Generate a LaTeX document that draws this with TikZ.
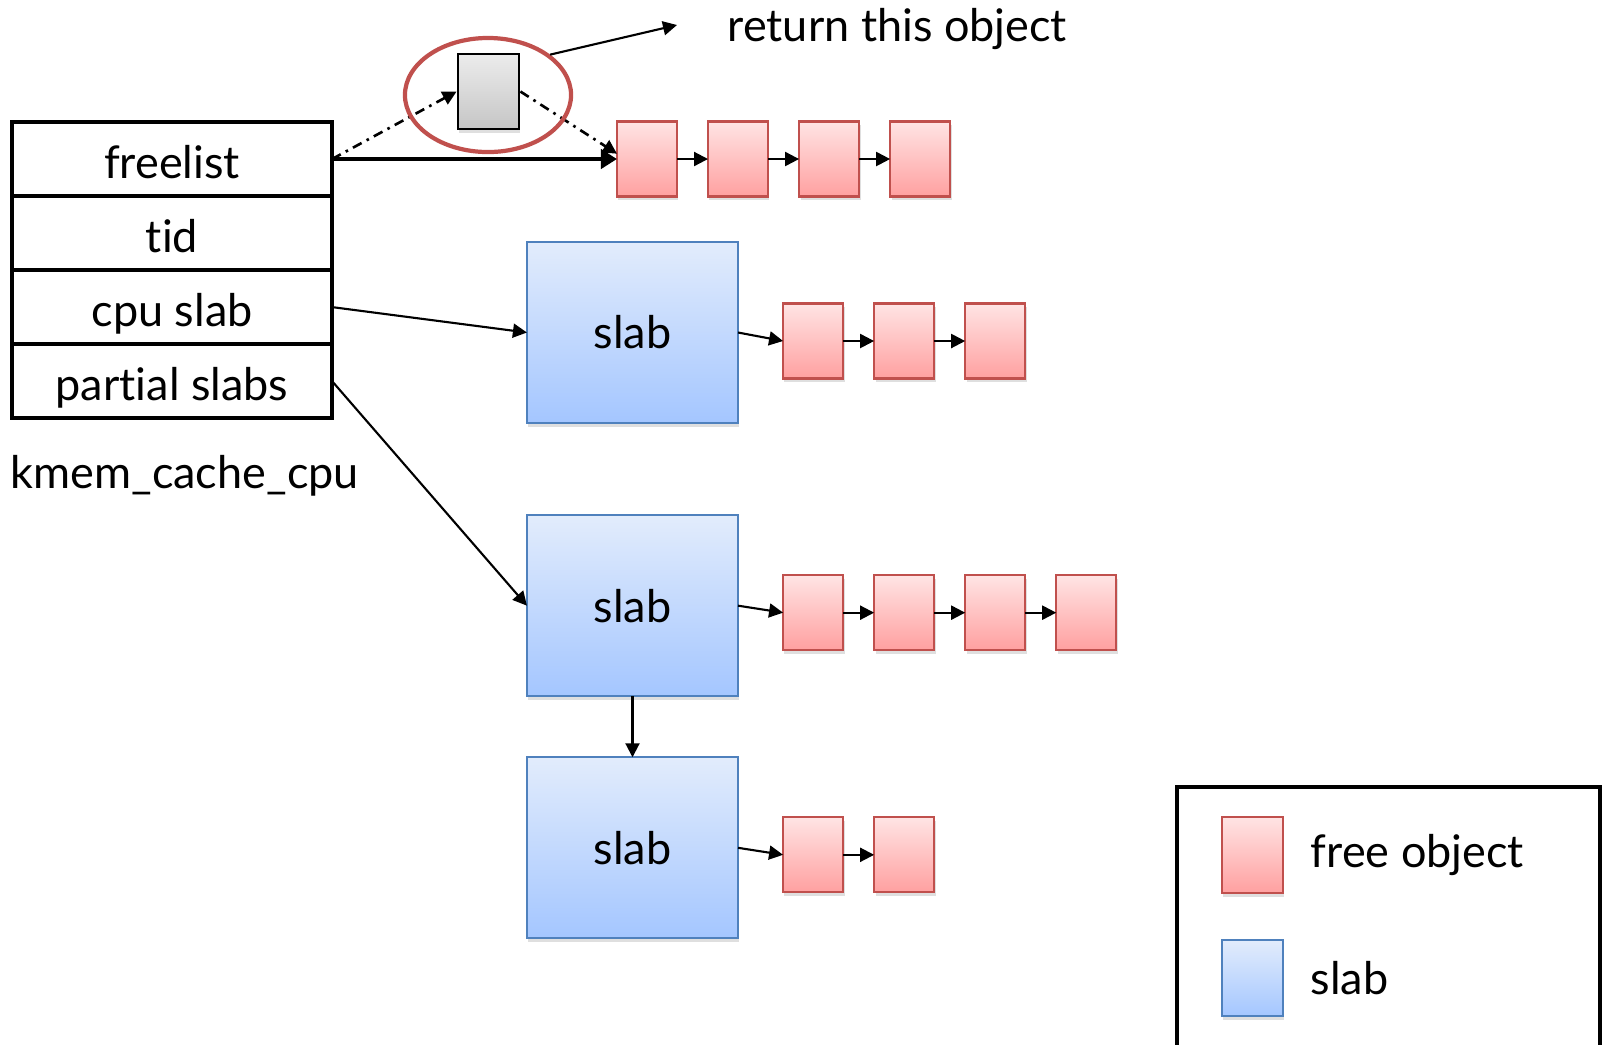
\documentclass[tikz,border=0pt]{standalone}
\usepackage{fontspec}
\setmainfont{Lato}[Ligatures=NoCommon]
\usepackage{xcolor}
\usepackage{tikz}
\usetikzlibrary{shapes,arrows.meta,positioning,shadows}

\definecolor{objline}{RGB}{192,80,77}
\definecolor{objtop}{RGB}{255,228,228}
\definecolor{objbot}{RGB}{255,160,160}
\definecolor{slabline}{RGB}{79,129,189}
\definecolor{slabtop}{RGB}{226,236,252}
\definecolor{slabbot}{RGB}{164,198,255}

\begin{document}
\begin{tikzpicture}[
        x=0.01cm, y=-0.01cm,
        font=\fontsize{12.8}{15}\selectfont,
        field/.style={rectangle, draw, line width=1.2pt, minimum width=3.2cm, minimum height=0.74cm, inner sep=0pt, outer sep=0pt, text height=11pt, text depth=0pt},
        softshadow/.style={drop shadow={shadow xshift=0.4pt, shadow yshift=-1pt, opacity=0.25}},
        objbox/.style={rectangle, draw=objline, line width=0.6pt, top color=objtop, bottom color=objbot, minimum width=0.6cm, minimum height=0.75cm, outer sep=0pt, softshadow},
        slabbox/.style={rectangle, draw=slabline, line width=0.6pt, top color=slabtop, bottom color=slabbot, minimum width=2.11cm, minimum height=1.81cm, outer sep=0pt, softshadow},
        arrow/.style={-{Triangle[length=0.14cm, width=0.14cm]}, line width=0.6pt},
        link/.style={arrow, line width=0.75pt, dash pattern=on 2.8pt off 1.6pt on 0.75pt off 1.6pt}
    ]
        \useasboundingbox (0,0) rectangle (1602,1044);

        % kmem_cache_cpu
        \node[field] (freelist) at (172,159) {freelist};
        \node[field, below=0pt of freelist] (tid) {tid};
        \node[field, below=0pt of tid] (cpuslab) {cpu slab};
        \node[field, below=0pt of cpuslab] (partial) {partial slabs};
        \node[anchor=base west, inner sep=0pt] (cachename) at (10,488) {kmem\_cache\_cpu};

        % slabs
        \node[slabbox] (slab1) at (632.5,332.5) {slab};
        \node[slabbox, below=0.92cm of slab1] (slab2) {slab};
        \node[slabbox, below=0.61cm of slab2] (slab3) {slab};

        % free objects
        \node[objbox] (f1) at (647,159) {};
        \node[objbox, right=0.31cm of f1] (f2) {};
        \node[objbox, right=0.31cm of f2] (f3) {};
        \node[objbox, right=0.31cm of f3] (f4) {};

        \node[objbox, right=0.45cm of slab1, yshift=-0.085cm] (a1) {};
        \node[objbox, right=0.31cm of a1] (a2) {};
        \node[objbox, right=0.31cm of a2] (a3) {};

        \node[objbox, right=0.45cm of slab2, yshift=-0.07cm] (b1) {};
        \node[objbox, right=0.31cm of b1] (b2) {};
        \node[objbox, right=0.31cm of b2] (b3) {};
        \node[objbox, right=0.31cm of b3] (b4) {};

        \node[objbox, right=0.45cm of slab3, yshift=-0.07cm] (c1) {};
        \node[objbox, right=0.31cm of c1] (c2) {};

        % the object handed out
        \node[rectangle, draw, line width=0.8pt, top color=gray!15, bottom color=gray!45, minimum width=0.61cm, minimum height=0.75cm, softshadow] (taken) at (488.5,91.5) {};
        \node[anchor=base west, inner sep=0pt] (ret) at (727,41) {return this object};
        \coordinate (retend) at (677,25);

        \draw[link] (freelist.east) -- (taken.west);
        \draw[link] (taken.east) -- (f1.170);
        \node[ellipse, draw=objline, line width=1.2pt, minimum width=1.66cm, minimum height=1.14cm] (pick) at (488,95) {};
        \draw[arrow] (pick.33) -- (retend);

        \draw[line width=1.3pt, -{Triangle[length=0.16cm, width=0.19cm]}] (freelist) -- (f1);
        \draw[arrow] (f1) -- (f2);
        \draw[arrow] (f2) -- (f3);
        \draw[arrow] (f3) -- (f4);

        \draw[arrow] (cpuslab.east) -- (slab1.west);
        \draw[arrow] (partial.east) -- (slab2.west);
        \draw[arrow] (slab2) -- (slab3);

        \draw[arrow] (slab1.east) -- (a1.west);
        \draw[arrow] (a1) -- (a2);
        \draw[arrow] (a2) -- (a3);

        \draw[arrow] (slab2.east) -- (b1.west);
        \draw[arrow] (b1) -- (b2);
        \draw[arrow] (b2) -- (b3);
        \draw[arrow] (b3) -- (b4);

        \draw[arrow] (slab3.east) -- (c1.west);
        \draw[arrow] (c1) -- (c2);

        % legend
        \node[rectangle, draw, line width=1.2pt, minimum width=4.23cm, minimum height=2.9cm, anchor=north west, outer sep=0pt] (legend) at (1177,787) {};
        \node[objbox, minimum width=0.61cm, minimum height=0.76cm] (keyobj) at (1252.5,855) {};
        \node[slabbox, minimum width=0.61cm, minimum height=0.76cm] (keyslab) at (1252.5,978) {};
        \node[right=0.27cm of keyobj, inner sep=0pt] (keyobjtext) {free object};
        \node[right=0.27cm of keyslab, inner sep=0pt] (keyslabtext) {slab};
    \end{tikzpicture}
\end{document}
